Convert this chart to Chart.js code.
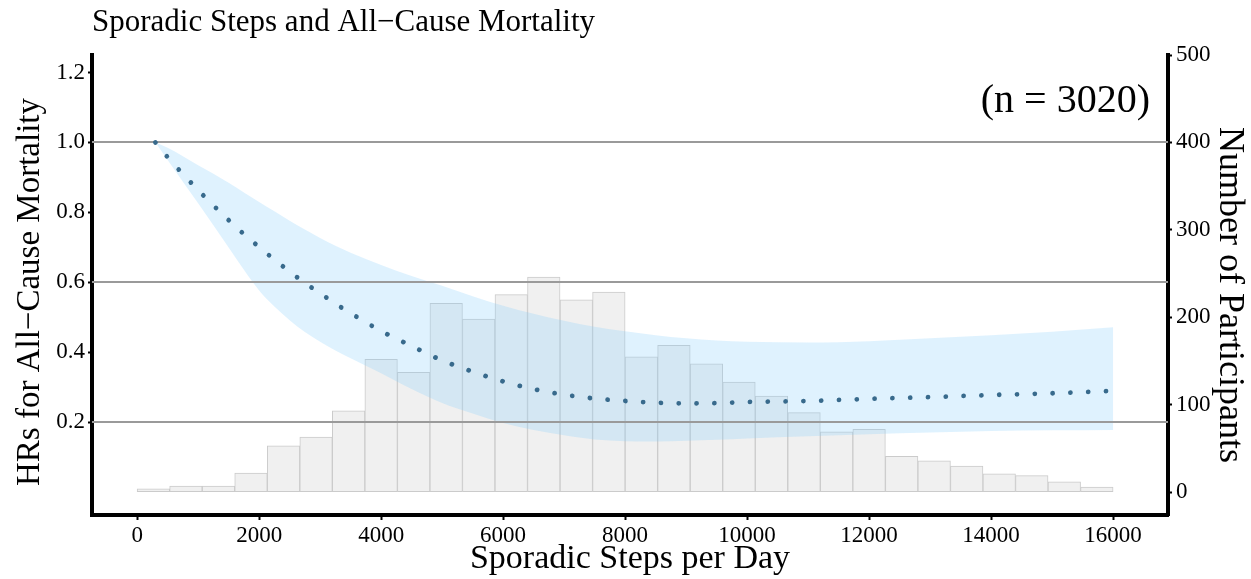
<!DOCTYPE html>
<html><head><meta charset="utf-8">
<script src="https://cdn.jsdelivr.net/npm/chart.js@4/dist/chart.umd.min.js"></script>
<style>html,body{margin:0;padding:0;background:#fff;} canvas{display:block;}</style>
</head><body>
<canvas id="c" width="1251" height="579"></canvas>
<script>
const titleText = 'Sporadic Steps and All\u2212Cause Mortality';
const xTitle = 'Sporadic Steps per Day';
const yLeftTitle = 'HRs for All\u2212Cause Mortality';
const yRightTitle = 'Number of Participants';
const noteText = '(n = 3020)';

// histogram: 30 bins from 0 to 16000 steps
const binWidth = 16000 / 30;
const binCounts = [4, 7, 7, 22, 53, 63, 93, 152, 137, 216, 198, 226, 246, 220, 229,
                   155, 168, 147, 126, 110, 91, 69, 72, 41, 36, 30, 21, 19, 12, 6];

// hazard ratio curve and 95% CI band
const curveSteps = [300, 500, 1000, 1500, 1750, 2000, 2250, 2500, 2750, 3000, 3250, 3500, 4000, 4500, 5000,
                    5500, 6000, 6500, 7000, 7500, 8000, 8500, 9000, 9500, 10000, 11000, 12000, 13000, 14000,
                    15000, 16000];
const curveHR = [1.0, 0.958, 0.864, 0.778, 0.738, 0.701, 0.665, 0.631, 0.598, 0.569, 0.539, 0.512, 0.461, 0.418,
                 0.377, 0.345, 0.317, 0.295, 0.279, 0.268, 0.261, 0.256, 0.254, 0.255, 0.258, 0.261, 0.267,
                 0.272, 0.278, 0.283, 0.290];
const bandUpper = [1.0, 0.985, 0.935, 0.885, 0.857, 0.83, 0.803, 0.776, 0.751, 0.727, 0.705, 0.685, 0.65, 0.618,
                   0.59, 0.56, 0.533, 0.51, 0.49, 0.473, 0.46, 0.449, 0.44, 0.434, 0.43, 0.428, 0.432, 0.44,
                   0.449, 0.459, 0.472];
const bandLower = [1.0, 0.95, 0.826, 0.70, 0.636, 0.577, 0.531, 0.492, 0.458, 0.43, 0.405, 0.383, 0.340, 0.295,
                   0.255, 0.225, 0.198, 0.178, 0.163, 0.151, 0.146, 0.145, 0.147, 0.15, 0.154, 0.16, 0.166,
                   0.171, 0.175, 0.177, 0.178];

const xTicks = [0, 2000, 4000, 6000, 8000, 10000, 12000, 14000, 16000];
const yLeftTicks = [0.2, 0.4, 0.6, 0.8, 1.0, 1.2];
const yRightTicks = [0, 100, 200, 300, 400, 500];
const refLines = [0.2, 0.6, 1.0];

const FONT = "'Liberation Serif', 'Times New Roman', serif";

const refLinePlugin = {
  id: 'refLines',
  afterDatasetDraw(chart, args) {
    if (args.index !== 1) return;
    const ctx = chart.ctx, area = chart.chartArea, y = chart.scales.y;
    ctx.save();
    ctx.strokeStyle = '#9a9a9a';
    ctx.lineWidth = 2;
    refLines.forEach(v => {
      const py = Math.round(y.getPixelForValue(v));
      ctx.beginPath();
      ctx.moveTo(area.left, py);
      ctx.lineTo(area.right, py);
      ctx.stroke();
    });
    ctx.restore();
  }
};

const textPlugin = {
  id: 'texts',
  afterDraw(chart) {
    const ctx = chart.ctx, area = chart.chartArea;
    const midY = (area.top + area.bottom) / 2;
    ctx.save();
    ctx.fillStyle = '#000';
    ctx.textAlign = 'right';
    ctx.textBaseline = 'middle';
    ctx.font = '40px ' + FONT;
    ctx.fillText(noteText, area.right - 18, area.top + 46);
    ctx.textAlign = 'center';
    // left axis title
    ctx.save();
    ctx.font = '33px ' + FONT;
    ctx.translate(30, midY + 7);
    ctx.rotate(-Math.PI / 2);
    ctx.fillText(yLeftTitle, 0, 0);
    ctx.restore();
    // right axis title
    ctx.save();
    ctx.font = '36px ' + FONT;
    ctx.translate(1229, midY + 10);
    ctx.rotate(Math.PI / 2);
    ctx.fillText(yRightTitle, 0, 0);
    ctx.restore();
    ctx.restore();
  }
};

const tickFont = { family: FONT, size: 23 };

new Chart(document.getElementById('c'), {
  type: 'bar',
  data: {
    datasets: [
      {
        type: 'bar',
        data: binCounts.map((c, i) => ({ x: (i + 0.5) * binWidth, y: c })),
        yAxisID: 'yR',
        backgroundColor: '#f0f0f0',
        borderColor: '#cbcbcb',
        borderWidth: 1,
        borderSkipped: false,
        barPercentage: 1,
        categoryPercentage: 1,
        order: 3
      },
      {
        type: 'line',
        data: curveSteps.map((x, i) => ({ x, y: bandUpper[i] })),
        yAxisID: 'y',
        borderColor: 'rgba(0,0,0,0)',
        borderWidth: 1,
        pointRadius: 0,
        fill: '+1',
        backgroundColor: 'rgba(135,206,250,0.27)',
        cubicInterpolationMode: 'monotone',
        order: 2
      },
      {
        type: 'line',
        data: curveSteps.map((x, i) => ({ x, y: bandLower[i] })),
        yAxisID: 'y',
        borderColor: 'rgba(0,0,0,0)',
        borderWidth: 1,
        pointRadius: 0,
        fill: false,
        cubicInterpolationMode: 'monotone',
        order: 2
      },
      {
        type: 'line',
        data: curveSteps.map((x, i) => ({ x, y: curveHR[i] })),
        yAxisID: 'y',
        borderColor: '#386a8c',
        borderWidth: 4.8,
        borderDash: [0.01, 17.8],
        borderCapStyle: 'round',
        pointRadius: 0,
        fill: false,
        cubicInterpolationMode: 'monotone',
        order: 0
      }
    ]
  },
  options: {
    responsive: false,
    animation: false,
    events: [],
    layout: { padding: 0 },
    plugins: {
      legend: { display: false },
      tooltip: { enabled: false },
      title: {
        display: true,
        text: titleText,
        align: 'start',
        fullSize: false,
        color: '#000',
        font: { family: FONT, size: 31, weight: 'normal' },
        padding: { top: 4, bottom: 13.8 }
      }
    },
    scales: {
      x: {
        type: 'linear',
        position: 'bottom',
        min: -740,
        max: 16900,
        offset: false,
        afterBuildTicks: s => { s.ticks = xTicks.map(v => ({ value: v })); },
        afterFit: s => { s.height = 64; },
        ticks: { color: '#000', font: tickFont, padding: 2, maxRotation: 0, autoSkip: false,
                 callback: v => String(v) },
        grid: { display: true, drawOnChartArea: false, drawTicks: true, tickLength: 5,
                tickColor: '#000', tickWidth: 2, offset: false },
        border: { display: true, color: '#000', width: 4 },
        title: { display: true, text: xTitle, color: '#000', font: { family: FONT, size: 34 }, padding: { top: 0, bottom: 0 } }
      },
      y: {
        type: 'linear',
        position: 'left',
        min: -0.065,
        max: 1.25,
        afterBuildTicks: s => { s.ticks = yLeftTicks.map(v => ({ value: v })); },
        afterFit: s => { s.width = 92; },
        ticks: { color: '#000', font: tickFont, padding: 3, callback: v => v.toFixed(1) },
        grid: { display: true, drawOnChartArea: false, drawTicks: true, tickLength: 4,
                tickColor: '#000', tickWidth: 2 },
        border: { display: true, color: '#000', width: 4 },
        title: { display: false }
      },
      yR: {
        type: 'linear',
        position: 'right',
        min: -26,
        max: 500,
        afterBuildTicks: s => { s.ticks = yRightTicks.map(v => ({ value: v })); },
        afterFit: s => { s.width = 83; },
        ticks: { color: '#000', font: tickFont, padding: 4, callback: v => String(v) },
        grid: { display: true, drawOnChartArea: false, drawTicks: true, tickLength: 4,
                tickColor: '#000', tickWidth: 2 },
        border: { display: true, color: '#000', width: 4 },
        title: { display: false }
      }
    }
  },
  plugins: [refLinePlugin, textPlugin]
});
</script>
</body></html>
